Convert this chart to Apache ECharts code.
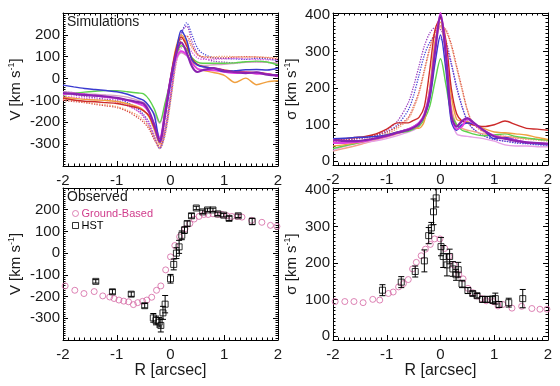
<!DOCTYPE html>
<html><head><meta charset="utf-8">
<script src="https://cdn.jsdelivr.net/npm/echarts/dist/echarts.min.js"></script>
<style>html,body{margin:0;padding:0;background:#fff}#c{width:560px;height:386px}</style>
</head><body><div id="c"></div>
<script>
// ---------- data ----------
const X_TICKS = [-2, -1, 0, 1, 2];
const R_SIM = [-2,-1.8,-1.6,-1.4,-1.2,-1,-0.8,-0.6,-0.5,-0.4,-0.3,-0.2,-0.1,0,0.1,0.2,0.3,0.4,0.5,0.6,0.8,1,1.2,1.4,1.6,1.8,2];

// simulated velocity curves
const V_BLUE    = [-30,-38,-45,-50,-55,-60,-72,-90,-100,-125,-170,-285,-170,-25,110,220,175,85,62,54,47,32,36,40,42,39,47];
const V_PURPLE  = [-66,-70,-75,-78,-82,-88,-98,-108,-115,-150,-215,-290,-160,-5,110,165,120,55,30,38,48,35,30,25,28,18,15];
const V_MAGENTA = [-72,-68,-72,-78,-85,-90,-100,-115,-125,-155,-210,-270,-150,-5,90,125,110,70,45,40,38,30,25,28,22,20,10];
const V_GREEN   = [-75,-68,-62,-58,-55,-55,-60,-66,-70,-95,-140,-200,-110,-10,100,150,135,95,75,70,70,70,72,77,80,76,62];
const V_ROSY    = [-60,-65,-70,-72,-75,-78,-85,-100,-110,-130,-160,-205,-120,-10,80,118,105,80,62,60,63,65,70,75,76,74,70];
const V_RED     = [-90,-98,-104,-106,-110,-114,-124,-135,-148,-170,-225,-275,-150,0,130,190,150,90,65,55,48,40,32,30,28,22,12];
const V_ORANGE  = [-85,-90,-95,-98,-100,-105,-115,-130,-145,-175,-235,-300,-170,0,140,200,160,80,45,38,28,15,-18,2,-28,-15,-10];
const VD_BLUE    = [-60,-65,-70,-78,-85,-92,-110,-140,-165,-200,-265,-320,-250,-100,80,200,255,200,140,115,95,92,90,88,92,90,82];
const VD_RED     = [-100,-105,-110,-118,-125,-132,-150,-180,-200,-230,-280,-310,-230,-80,90,180,195,150,110,100,95,95,98,100,98,95,90];
const VD_ORANGE  = [-95,-100,-108,-115,-120,-128,-145,-170,-190,-220,-270,-320,-260,-110,60,160,180,140,110,100,100,102,100,98,100,97,95];
const VD_MAGENTA = [-80,-85,-90,-95,-100,-108,-125,-150,-170,-205,-255,-300,-220,-70,70,140,150,120,95,88,88,90,92,90,88,86,85];
const VD_PURPLE  = [-70,-75,-82,-88,-95,-100,-120,-150,-175,-215,-275,-320,-240,-90,90,210,240,170,115,95,80,75,72,75,78,74,70];

// simulated dispersion curves
const S_MAGENTA = [50,50,52,55,62,68,78,88,95,105,130,190,310,405,300,130,88,95,115,105,85,70,62,58,52,50,48];
const S_PURPLE  = [58,56,55,58,63,70,78,86,92,102,125,180,300,398,290,125,95,110,118,108,85,68,62,56,52,50,48];
const S_BLUE    = [62,63,65,66,68,72,80,88,95,105,125,170,270,345,250,110,85,100,105,103,85,62,65,58,50,48,45];
const S_GREEN   = [35,42,48,55,62,72,78,82,88,96,115,150,220,280,210,130,100,85,80,75,70,72,75,68,64,60,58];
const S_ORANGE  = [42,45,50,55,62,72,80,88,92,90,110,200,330,380,300,180,115,110,108,100,90,80,78,75,72,65,60];
const S_RED     = [60,62,65,68,75,88,105,105,112,120,150,250,360,390,330,200,130,110,105,100,95,100,110,100,90,88,85];
const S_PINK    = [30,40,48,52,56,62,70,80,85,95,120,180,300,390,290,120,75,70,68,66,62,55,45,42,42,40,40];
const S_SALMON  = [28,35,42,50,58,66,75,85,92,100,125,200,320,370,290,150,100,90,85,82,75,70,68,65,62,60,58];
const SD_PURPLE = [55,58,60,65,72,85,110,160,205,260,315,350,365,360,330,270,200,150,110,90,70,60,55,52,50,48,45];
const SD_BLUE   = [60,60,62,65,70,80,100,140,180,235,290,325,340,335,315,265,205,150,110,90,70,60,55,50,48,45,44];
const SD_RED    = [55,58,62,66,72,80,95,120,150,190,250,310,355,370,360,320,260,200,140,105,80,70,68,65,62,60,58];
const SD_ORANGE = [50,52,55,60,66,75,90,115,145,185,245,305,350,365,355,315,255,195,140,105,82,70,66,63,60,58,55];

// observed: ground-based velocity
const GB_V_R = [-1.96,-1.78,-1.61,-1.42,-1.26,-1.13,-1.05,-0.96,-0.87,-0.78,-0.69,-0.61,-0.52,-0.44,-0.35,-0.26,-0.18,-0.09,0.0,0.08,0.17,0.27,0.36,0.44,0.53,0.62,0.70,0.79,0.88,0.96,1.05,1.14,1.24,1.33,1.51,1.70,1.86,1.98];
const GB_V   = [-151,-171,-186,-177,-197,-202,-209,-216,-221,-224,-237,-228,-222,-216,-203,-171,-151,-77,-17,35,75,112,136,157,169,178,178,181,178,178,172,169,169,166,151,142,128,123];
// observed: HST velocity
const HST_V_R = [-1.39,-1.08,-0.73,-0.48,-0.32,-0.27,-0.21,-0.18,-0.14,-0.10,0.00,0.06,0.11,0.16,0.21,0.26,0.31,0.39,0.48,0.60,0.69,0.79,0.88,0.99,1.09,1.26,1.52];
const HST_V   = [-130,-178,-189,-242,-298,-310,-318,-333,-275,-235,-118,-52,0,29,82,106,136,172,208,190,199,199,181,175,160,172,146];
const HST_V_E = [8,10,10,10,20,20,22,30,30,40,20,25,25,30,20,15,12,10,8,8,8,8,8,8,10,8,15];
// observed: ground-based dispersion
const GB_S_R = [-1.96,-1.78,-1.61,-1.44,-1.26,-1.13,-0.97,-0.88,-0.78,-0.69,-0.60,-0.52,-0.45,-0.36,-0.28,-0.19,-0.11,-0.01,0.08,0.16,0.25,0.34,0.42,0.51,0.60,0.68,0.77,0.85,0.98,1.07,1.16,1.33,1.51,1.70,1.85,1.98];
const GB_S   = [95,95,95,92,101,99,117,121,135,144,155,184,202,220,238,251,266,266,240,218,195,170,157,131,119,110,103,97,95,83,87,77,82,76,74,74];
// observed: HST dispersion
const HST_S_R = [-1.08,-0.73,-0.47,-0.30,-0.22,-0.17,-0.13,-0.08,0.01,0.05,0.12,0.17,0.23,0.29,0.33,0.40,0.51,0.60,0.68,0.78,0.87,0.97,1.02,1.09,1.27,1.53];
const HST_S   = [126,148,177,206,275,296,340,378,245,218,195,218,184,168,182,143,125,117,111,101,101,100,103,87,92,103];
const HST_S_E = [15,15,15,30,22,15,35,25,25,30,30,20,20,15,20,10,8,6,6,8,8,10,15,8,12,25];

// ---------- chart ----------
const FONT = 'Liberation Sans, Arial, sans-serif';
const TXT = '#1a1a1a';
const grids = [
  {left: 63, top: 13, width: 215, height: 153},
  {left: 333, top: 13, width: 215, height: 152},
  {left: 63, top: 188, width: 215, height: 152},
  {left: 333, top: 188, width: 215, height: 152}
];
const xAxes = [], yAxes = [];
function baseAxis(g, pos, showLabel) {
  return {
    type: 'value', gridIndex: g, position: pos,
    axisLine: {show: true, onZero: false, lineStyle: {color: '#000', width: 1}},
    axisTick: {show: true, inside: true, length: 5, lineStyle: {color: '#000', width: 1}},
    minorTick: {show: true, splitNumber: 10, length: 2.5, lineStyle: {color: '#000', width: 1}},
    splitLine: {show: false}, minorSplitLine: {show: false},
    axisLabel: {show: showLabel, color: TXT, fontSize: 15, fontFamily: FONT}
  };
}
for (let g = 0; g < 4; g++) {
  const bottomRow = g >= 2;
  for (const pos of ['bottom', 'top']) {
    const a = baseAxis(g, pos, pos === 'bottom');
    a.min = X_TICKS[0]; a.max = X_TICKS[X_TICKS.length - 1]; a.interval = 1;
    a.axisLabel.margin = 7;
    if (pos === 'bottom' && bottomRow) {
      a.name = 'R [arcsec]'; a.nameLocation = 'middle'; a.nameGap = 17;
      a.nameTextStyle = {fontSize: 16, color: TXT, fontFamily: FONT, verticalAlign: 'top'};
    }
    xAxes.push(a);
  }
  const isV = (g % 2 === 0);
  for (const pos of ['left', 'right']) {
    const a = baseAxis(g, pos, pos === 'left');
    if (isV) { a.min = -400; a.max = 300; a.interval = 100; }
    else { a.min = -10; a.max = 405; a.splitNumber = 4; }
    a.axisLabel.showMinLabel = false; a.axisLabel.showMaxLabel = false;
    a.axisLabel.margin = 3;
    if (pos === 'left') {
      a.name = isV ? '{a|V [km s}{s|-1}{a|]}' : '{a|σ [km s}{s|-1}{a|]}';
      a.nameLocation = 'middle'; a.nameRotate = 90;
      a.nameGap = isV ? 38 : 32;
      a.nameTextStyle = {fontSize: 15, color: TXT, fontFamily: FONT,
        rich: {a: {fontSize: 15, color: TXT, fontFamily: FONT, lineHeight: 18},
               s: {fontSize: 9, color: TXT, fontFamily: FONT, verticalAlign: 'top', lineHeight: 18}}};
    }
    yAxes.push(a);
  }
}

const series = [];
function simLine(g, vals, color, width, dotted) {
  series.push({
    type: 'line', xAxisIndex: 2 * g, yAxisIndex: 2 * g,
    data: R_SIM.map((r, i) => [r, vals[i]]),
    showSymbol: false, smooth: 0.3, silent: true, clip: true,
    lineStyle: {color: color, width: width, type: dotted ? 'dotted' : 'solid'},
    z: dotted ? 1 : 2
  });
}
// top-left dotted
simLine(0, VD_BLUE, '#4a4ad8', 1.3, true);
simLine(0, VD_PURPLE, '#9a40c0', 1.3, true);
simLine(0, VD_RED, '#d84848', 1.3, true);
simLine(0, VD_ORANGE, '#f0a070', 1.3, true);
simLine(0, VD_MAGENTA, '#e060e0', 1.3, true);
// top-left solid
simLine(0, V_ROSY, '#d4a0c4', 1.4, false);
simLine(0, V_GREEN, '#5cd24c', 1.4, false);
simLine(0, V_ORANGE, '#f0a040', 1.4, false);
simLine(0, V_RED, '#cc2a2a', 1.4, false);
simLine(0, V_MAGENTA, '#e23ee2', 1.8, false);
simLine(0, V_BLUE, '#3a3ad0', 1.5, false);
simLine(0, V_PURPLE, '#8a22b0', 2.2, false);
// top-right dotted
simLine(1, SD_PURPLE, '#9a40c0', 1.3, true);
simLine(1, SD_BLUE, '#4a4ad8', 1.3, true);
simLine(1, SD_RED, '#d84848', 1.3, true);
simLine(1, SD_ORANGE, '#f0a070', 1.3, true);
// top-right solid
simLine(1, S_SALMON, '#f4a088', 1.4, false);
simLine(1, S_PINK, '#e6a0e6', 1.4, false);
simLine(1, S_GREEN, '#5cd24c', 1.4, false);
simLine(1, S_ORANGE, '#f0a040', 1.4, false);
simLine(1, S_RED, '#cc2a2a', 1.4, false);
simLine(1, S_BLUE, '#3a3ad0', 1.5, false);
simLine(1, S_MAGENTA, '#e23ee2', 1.8, false);
simLine(1, S_PURPLE, '#8a22b0', 2.2, false);

const PINK = '#d465a2';
function errBars(g, R, Y, E) {
  series.push({
    type: 'custom', name: 'HST err', xAxisIndex: 2 * g, yAxisIndex: 2 * g, clip: true, silent: true, z: 3,
    data: R.map((r, i) => [r, Y[i], E[i]]),
    renderItem: function (params, api) {
      const x = api.value(0), y = api.value(1), e = api.value(2);
      const t = api.coord([x, y + e]), b = api.coord([x, y - e]);
      const st = {stroke: '#000', lineWidth: 1};
      return {type: 'group', children: [
        {type: 'line', shape: {x1: t[0], y1: t[1], x2: b[0], y2: b[1]}, style: st},
        {type: 'line', shape: {x1: t[0] - 3, y1: t[1], x2: t[0] + 3, y2: t[1]}, style: st},
        {type: 'line', shape: {x1: b[0] - 3, y1: b[1], x2: b[0] + 3, y2: b[1]}, style: st}
      ]};
    }
  });
}
function obs(g, gbR, gb, hR, h, hE) {
  series.push({
    type: 'scatter', name: 'Ground-Based', xAxisIndex: 2 * g, yAxisIndex: 2 * g,
    data: gbR.map((r, i) => [r, gb[i]]), symbol: 'circle', symbolSize: 6,
    itemStyle: {color: 'rgba(255,255,255,0)', borderColor: PINK, borderWidth: 1}, silent: true, z: 2
  });
  errBars(g, hR, h, hE);
  series.push({
    type: 'scatter', name: 'HST', xAxisIndex: 2 * g, yAxisIndex: 2 * g,
    data: hR.map((r, i) => [r, h[i]]), symbol: 'rect', symbolSize: 6,
    itemStyle: {color: 'rgba(255,255,255,0)', borderColor: '#000', borderWidth: 1}, silent: true, z: 4
  });
}
obs(2, GB_V_R, GB_V, HST_V_R, HST_V, HST_V_E);
obs(3, GB_S_R, GB_S, HST_S_R, HST_S, HST_S_E);

const option = {
  backgroundColor: '#fff',
  animation: false,
  grid: grids,
  xAxis: xAxes,
  yAxis: yAxes,
  legend: {
    orient: 'vertical', left: 72, top: 208, padding: 0, itemGap: 1,
    itemWidth: 6, itemHeight: 6, selectedMode: false,
    itemStyle: {borderWidth: 1},
    data: [
      {name: 'Ground-Based', icon: 'circle', textStyle: {color: '#d03c8c'},
       itemStyle: {color: 'rgba(255,255,255,0)', borderColor: PINK, borderWidth: 1}},
      {name: 'HST', icon: 'rect', textStyle: {color: '#000'},
       itemStyle: {color: 'rgba(255,255,255,0)', borderColor: '#000', borderWidth: 1}}
    ],
    textStyle: {fontSize: 11, fontFamily: FONT, padding: [0, 0, 0, -2], lineHeight: 10}
  },
  graphic: [
    {type: 'text', left: 67, top: 15, style: {text: 'Simulations', fontSize: 14, fontFamily: FONT, fill: TXT}},
    {type: 'text', left: 67, top: 190, style: {text: 'Observed', fontSize: 14, fontFamily: FONT, fill: TXT}}
  ],
  series: series
};
const chart = echarts.init(document.getElementById('c'), null, {renderer: 'canvas'});
chart.setOption(option);
</script></body></html>
